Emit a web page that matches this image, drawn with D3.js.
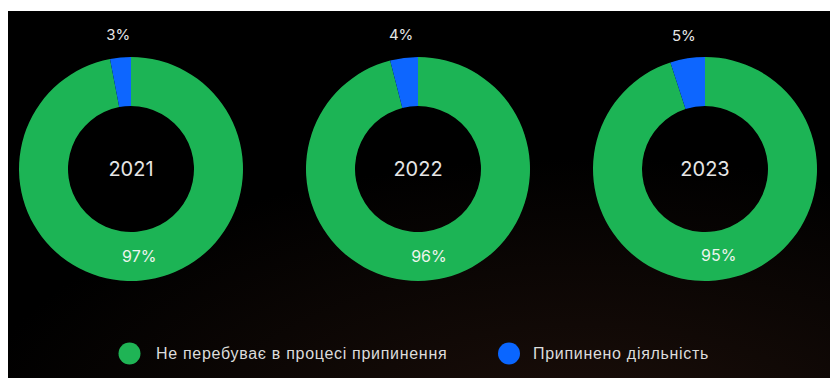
<!DOCTYPE html>
<html>
<head>
<meta charset="utf-8">
<script src="https://cdn.jsdelivr.net/npm/d3@7"></script>
<style>
  html, body { margin: 0; padding: 0; background: #ffffff; }
  svg { display: block; }
</style>
</head>
<body>
<svg id="chart" width="830" height="378"></svg>
<script>
// Share of companies by status, per year
const years = ["2021", "2022", "2023"];
const activeShare = [97, 96, 95];      // Не перебуває в процесі припинення
const stoppedShare = [3, 4, 5];        // Припинено діяльність
const seriesNames = ["Не перебуває в процесі припинення", "Припинено діяльність"];
const seriesColors = ["#1fb455", "#0a66ff"];

const W = 830, H = 378;
const svg = d3.select("#chart");

// dark panel with a faint warm glow toward the bottom
const defs = svg.append("defs");
const glow = defs.append("radialGradient")
  .attr("id", "glow")
  .attr("cx", 0.7).attr("cy", 1.15).attr("r", 0.75);
glow.append("stop").attr("offset", 0).attr("stop-color", "#1c0f0a");
glow.append("stop").attr("offset", 1).attr("stop-color", "#000000");

const blur = defs.append("filter").attr("id", "soft")
  .attr("x", "-10%").attr("y", "-10%").attr("width", "120%").attr("height", "120%");
blur.append("feGaussianBlur").attr("stdDeviation", 0.6);

svg.append("rect")
  .attr("x", 8).attr("y", 11)
  .attr("width", W - 8).attr("height", H - 11)
  .attr("fill", "url(#glow)");

const x = d3.scalePoint().domain(years).range([131, 705]);
const cy = 169;
const rOuter = 112, rInner = 63, rLabel = 135;

const pie = d3.pie().sort(null).value(d => d.value);
const arc = d3.arc().innerRadius(rInner).outerRadius(rOuter);

years.forEach((year, i) => {
  const data = [
    { key: 0, value: activeShare[i] },
    { key: 1, value: stoppedShare[i] }
  ];
  const arcs = pie(data);
  const g = svg.append("g").attr("transform", `translate(${x(year)},${cy})`);

  g.selectAll("path.slice")
    .data(arcs)
    .join("path")
    .attr("class", "slice")
    .attr("d", arc)
    .attr("fill", d => seriesColors[d.data.key])
    .attr("filter", "url(#soft)");

  // year in the hole
  g.append("text")
    .attr("text-anchor", "middle")
    .attr("dy", "0.36em")
    .attr("font-family", "Inter, 'Noto Sans', sans-serif")
    .attr("font-size", 20)
    .attr("fill", "#e6e6e6")
    .text(year);

  // large share label on the ring
  const big = arcs[0];
  const [bx, by] = arc.centroid(big);
  g.append("text")
    .attr("x", bx).attr("y", by)
    .attr("text-anchor", "middle")
    .attr("dy", "0.36em")
    .attr("font-family", "Inter, 'Noto Sans', sans-serif")
    .attr("font-size", 16)
    .attr("fill", "#eef5ee")
    .text(big.data.value + "%");

  // small share label outside the ring
  const small = arcs[1];
  const mid = (small.startAngle + small.endAngle) / 2;
  g.append("text")
    .attr("x", Math.sin(mid) * rLabel)
    .attr("y", -Math.cos(mid) * rLabel)
    .attr("text-anchor", "middle")
    .attr("dy", "0.36em")
    .attr("font-family", "Inter, 'Noto Sans', sans-serif")
    .attr("font-size", 15)
    .attr("fill", "#e6e6e6")
    .text(small.data.value + "%");
});

// legend
const legendX = [129.5, 509];
const legend = svg.append("g");
seriesNames.forEach((name, i) => {
  const lg = legend.append("g").attr("transform", `translate(${legendX[i]},353.5)`);
  lg.append("circle").attr("r", 11).attr("fill", seriesColors[i]);
  lg.append("text")
    .attr("x", i === 0 ? 26.5 : 24)
    .attr("dy", "0.36em")
    .attr("font-family", "'Liberation Sans', Arial, sans-serif")
    .attr("font-size", 16)
    .attr("letter-spacing", "0.7px")
    .attr("fill", "#dcdcdc")
    .text(name);
});
</script>
</body>
</html>
